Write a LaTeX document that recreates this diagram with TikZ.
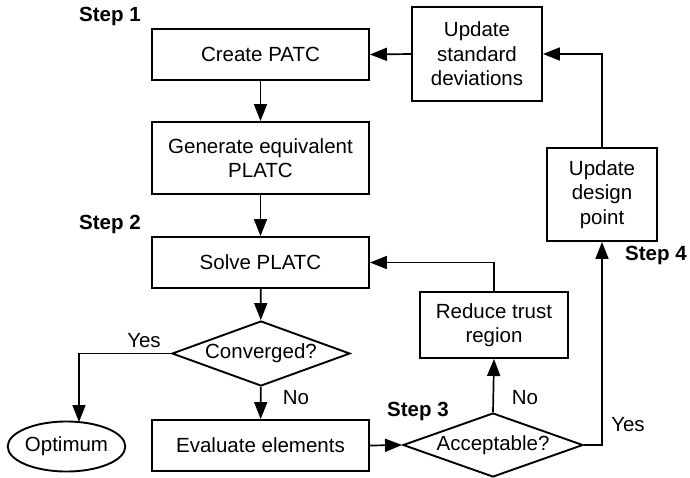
\documentclass[tikz,border=0pt]{standalone}
\usepackage{fontspec}
\setmainfont{Liberation Sans}
\usetikzlibrary{shapes.geometric,arrows.meta}
\tikzset{
  base/.style={font=\fontsize{20.5}{24.5}\selectfont, align=center, inner sep=0pt},
  box/.style={base, draw, line width=1.9pt},
  decision/.style={base, draw, line width=1.9pt, diamond, aspect=2.75},
  terminal/.style={base, draw, line width=1.9pt, ellipse},
  steplabel/.style={base, font=\fontsize{20.5}{24.5}\selectfont\bfseries},
  tag/.style={base},
  flow/.style={line width=1.7pt, -{Triangle[length=17pt,width=13pt]}}
}
\begin{document}
\begin{tikzpicture}[x=1pt,y=-1pt]
\useasboundingbox (0,0) rectangle (690,477);

% main column
\node[box, minimum width=217pt, minimum height=51pt] (create) at (260.5,54.5) {Create PATC};
\node[box, minimum width=217pt, minimum height=72pt] (gen) at (260.5,158) {Generate equivalent\\PLATC};
\node[box, minimum width=217pt, minimum height=51pt] (solve) at (260.5,262.5) {Solve PLATC};
\node[decision, minimum width=178pt, minimum height=65pt] (conv) at (261,353.5) {Converged?};
\node[box, minimum width=217pt, minimum height=51pt] (eval) at (260.5,445.5) {Evaluate elements};
\node[terminal, minimum width=108pt, minimum height=50pt] (opt) at (66.5,446.5) {Optimum};

% right side
\node[decision, minimum width=180pt, minimum height=64pt] (accept) at (493,445) {Acceptable?};
\node[box, minimum width=148pt, minimum height=66pt] (reduce) at (494,325) {Reduce trust\\region};
\node[box, minimum width=110pt, minimum height=93pt] (design) at (602,194.5) {Update\\design\\point};
\node[box, minimum width=130pt, minimum height=94pt] (std) at (477,54) {Update\\standard\\deviations};

% step labels
\node[steplabel] (s1) at (110,16) {Step 1};
\node[steplabel] (s2) at (110,224) {Step 2};
\node[steplabel] (s3) at (418,411) {Step 3};
\node[steplabel] (s4) at (656,255) {Step 4};

% branch labels
\node[tag] (convyes) at (144,341) {Yes};
\node[tag] (convno) at (296,398) {No};
\node[tag] (accno) at (525,398) {No};
\node[tag] (accyes) at (628,425) {Yes};

\coordinate (optin) at (79,422);

% connectors
\draw[flow] (create) -- (gen);
\draw[flow] (gen) -- (solve);
\draw[flow] (solve) -- (conv);
\draw[flow] (conv) -- (eval);
\draw[flow] (conv.west) -| (optin);
\draw[flow] (eval.east) -- (accept.west);
\draw[flow] (accept.north) -- (reduce.south);
\draw[flow] (reduce.north) |- (solve.east);
\draw[flow] (accept.east) -| (design.south);
\draw[flow] (design.north) |- (std.east);
\draw[flow] (std.west) -- (create.east);
\end{tikzpicture}
\end{document}
